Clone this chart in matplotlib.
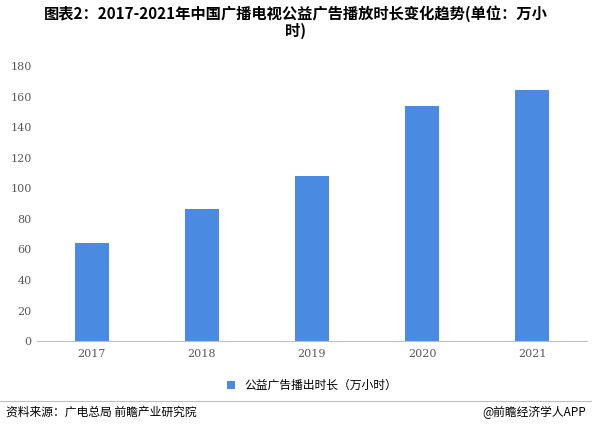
import matplotlib.pyplot as plt

plt.rcParams['font.family'] = ['Noto Sans CJK SC', 'DejaVu Sans']

years = ['2017', '2018', '2019', '2020', '2021']
hours = [64, 86.5, 108, 153.5, 164.5]
yticks = [0, 20, 40, 60, 80, 100, 120, 140, 160, 180]

fig = plt.figure(figsize=(5.92, 4.34), dpi=100)
ax = fig.add_axes([0.062, 0.214, 0.93, 0.634])

ax.bar(years, hours, width=0.31, color='#4a8ae0', label='公益广告播出时长（万小时）')
ax.set_ylim(0, 180)
ax.set_yticks(yticks)
ax.set_xlim(-0.5, 4.5)
for s in ['top', 'right', 'left']:
    ax.spines[s].set_visible(False)
ax.spines['bottom'].set_color('#bfbfbf')
ax.tick_params(axis='y', length=0, labelsize=8, colors='#595959')
ax.tick_params(axis='x', length=0, labelsize=8, colors='#595959', pad=6)
for lab in ax.get_xticklabels() + ax.get_yticklabels():
    lab.set_fontfamily('DejaVu Serif')

fig.text(0.5, 0.988, '图表2：2017-2021年中国广播电视公益广告播放时长变化趋势(单位：万小\n时)',
         ha='center', va='top', fontsize=11, fontweight='bold', linespacing=1.05)
ax.legend(loc='upper center', bbox_to_anchor=(0.5, -0.1), frameon=False,
          fontsize=8.5, handlelength=0.7, handleheight=0.7)
fig.add_artist(plt.Line2D([0.0, 1.0], [0.075, 0.075], color='#bfbfbf', lw=0.8))
fig.text(0.01, 0.05, '资料来源：广电总局 前瞻产业研究院', fontsize=8.5, va='center')
fig.text(0.99, 0.05, '@前瞻经济学人APP', fontsize=8.5, va='center', ha='right')

fig.savefig('out.png', dpi=100)
